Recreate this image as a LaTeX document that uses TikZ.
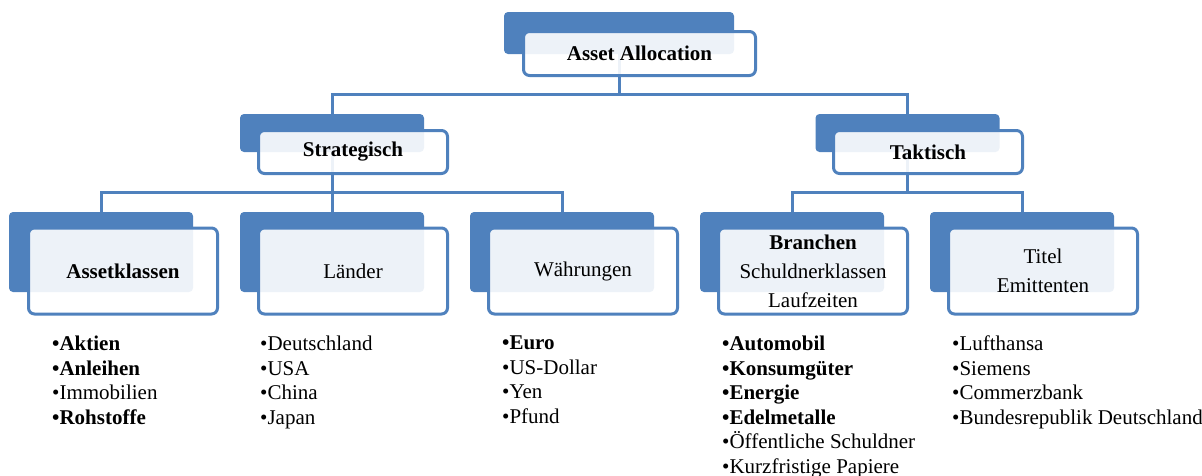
\documentclass[tikz,border=0pt]{standalone}
\usepackage{fontspec}
\setmainfont{Liberation Serif}
\usetikzlibrary{backgrounds}
\definecolor{boxblue}{RGB}{79,129,189}

\begin{document}
\begin{tikzpicture}[x=1pt,y=-1pt,
  back/.style={fill=boxblue, rounded corners=4pt, inner sep=0pt},
  front/.style={draw=boxblue, line width=3pt, fill=white, fill opacity=0.9,
    text opacity=1, rounded corners=6pt, inner sep=0pt, align=center,
    font=\fontsize{21}{29}\selectfont},
  link/.style={draw=boxblue, line width=3pt},
  itemlist/.style={anchor=north west, inner sep=0pt, align=left,
    font=\fontsize{21}{24.5}\selectfont}]
\useasboundingbox (0,0) rectangle (1202,475);

% top level
\node[back, minimum width=230pt, minimum height=42pt] (alloc-bg) at (619,33) {};
\node[front, minimum width=232pt, minimum height=44pt] (alloc) at (639.5,53.5) {\textbf{Asset Allocation}};

% second level
\node[back, minimum width=184pt, minimum height=38pt] (strat-bg) at (332,133) {};
\node[front, minimum width=189pt, minimum height=43pt] (strat) at (353,152) {\textbf{Strategisch}};
\node[back, minimum width=184pt, minimum height=38pt] (takt-bg) at (907.5,133) {};
\node[front, minimum width=189pt, minimum height=43pt] (takt) at (928,152) {\textbf{Taktisch}};

% third level
\node[back, minimum width=184pt, minimum height=80pt] (assets-bg) at (101,252) {};
\node[front, minimum width=189pt, minimum height=86pt] (assets) at (123,271) {\textbf{Assetklassen}};
\node[back, minimum width=184pt, minimum height=80pt] (laender-bg) at (332,252) {};
\node[front, minimum width=189pt, minimum height=86pt] (laender) at (353,271) {Länder};
\node[back, minimum width=184pt, minimum height=80pt] (waehr-bg) at (562,252) {};
\node[front, minimum width=189pt, minimum height=86pt] (waehr) at (583,271) {Währungen};
\node[back, minimum width=184pt, minimum height=80pt] (branch-bg) at (792,252) {};
\node[front, minimum width=189pt, minimum height=86pt] (branch) at (813,271) {\textbf{Branchen}\\Schuldnerklassen\\Laufzeiten};
\node[back, minimum width=184pt, minimum height=80pt] (titel-bg) at (1022,252) {};
\node[front, minimum width=189pt, minimum height=86pt] (titel) at (1043,271) {Titel\\Emittenten};

% connectors
\coordinate (split-top) at (619,94);
\coordinate (split-strat) at (332,192);
\coordinate (split-takt) at (907.5,192);
\begin{scope}[on background layer]
\draw[link] (alloc-bg.center) -- (split-top) -| (strat-bg.center);
\draw[link] (split-top) -| (takt-bg.center);
\draw[link] (strat-bg.center) -- (split-strat) -| (assets-bg.center);
\draw[link] (split-strat) -| (waehr-bg.center);
\draw[link] (split-strat) -- (laender-bg.center);
\draw[link] (takt-bg.center) -- (split-takt) -| (branch-bg.center);
\draw[link] (split-takt) -| (titel-bg.center);
\end{scope}

% lists
\node[itemlist] (assets-list) at (52,336) {\textbf{•Aktien}\\\textbf{•Anleihen}\\•Immobilien\\\textbf{•Rohstoffe}};
\node[itemlist] (laender-list) at (260,336) {•Deutschland\\•USA\\•China\\•Japan};
\node[itemlist] (waehr-list) at (502,336) {\textbf{•Euro}\\•US-Dollar\\•Yen\\•Pfund};
\node[itemlist] (branch-list) at (722,336) {\textbf{•Automobil}\\\textbf{•Konsumgüter}\\\textbf{•Energie}\\\textbf{•Edelmetalle}\\•Öffentliche Schuldner\\•Kurzfristige Papiere};
\node[itemlist] (titel-list) at (952,336) {•Lufthansa\\•Siemens\\•Commerzbank\\•Bundesrepublik Deutschland};
\end{tikzpicture}
\end{document}
